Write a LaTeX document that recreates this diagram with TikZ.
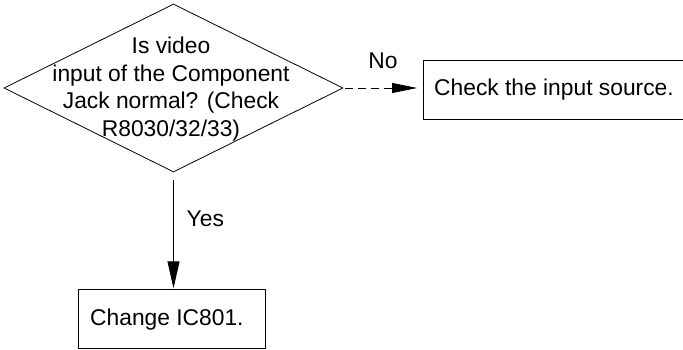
\documentclass[tikz,border=0pt]{standalone}
\usepackage{fontspec}
\setmainfont{Liberation Sans}
\usetikzlibrary{shapes.geometric,arrows.meta}
\begin{document}
\begin{tikzpicture}[x=1pt,y=-1pt,
  txt/.style={font=\fontsize{22.8}{27.8}\selectfont, inner sep=0},
  boxnode/.style={draw, line width=0.8pt, inner sep=0},
  decision/.style={diamond, draw, line width=0.8pt, inner sep=0, minimum width=339, minimum height=168},
  flow/.style={line width=0.8pt, -{Triangle[length=27pt,width=12pt]}},
  dflow/.style={line width=0.8pt, dash pattern=on 8pt off 5pt, -{Triangle[length=25pt,width=10pt]}}]
\clip (0,0) rectangle (683,350);
\node[decision] (q) at (173.5,88) {};
\node[txt, align=center] (qt) at (171,89) {Is video\\input of the Component\\Jack normal? (Check\\R8030/32/33)};
\node[boxnode, minimum width=277, minimum height=59.5] (b1) at (561.5,90) {};
\node[txt, anchor=base west] (b1t) at (434,95.7) {Check the input source.};
\node[boxnode, minimum width=187, minimum height=58.5] (b2) at (171.5,319) {};
\node[txt, anchor=base west] (b2t) at (90,325) {Change IC801.};
\draw[dflow, shorten <=1.5pt, shorten >=5.5pt] (q.east) -- (q.east -| b1.west);
\draw[flow, shorten <=8pt, shorten >=1pt] (q.south) -- (q.south |- b2.north);
\node[txt, anchor=base] (no) at (383,68.3) {No};
\node[txt, anchor=base] (yes) at (205.3,226.7) {Yes};
\end{tikzpicture}
\end{document}
